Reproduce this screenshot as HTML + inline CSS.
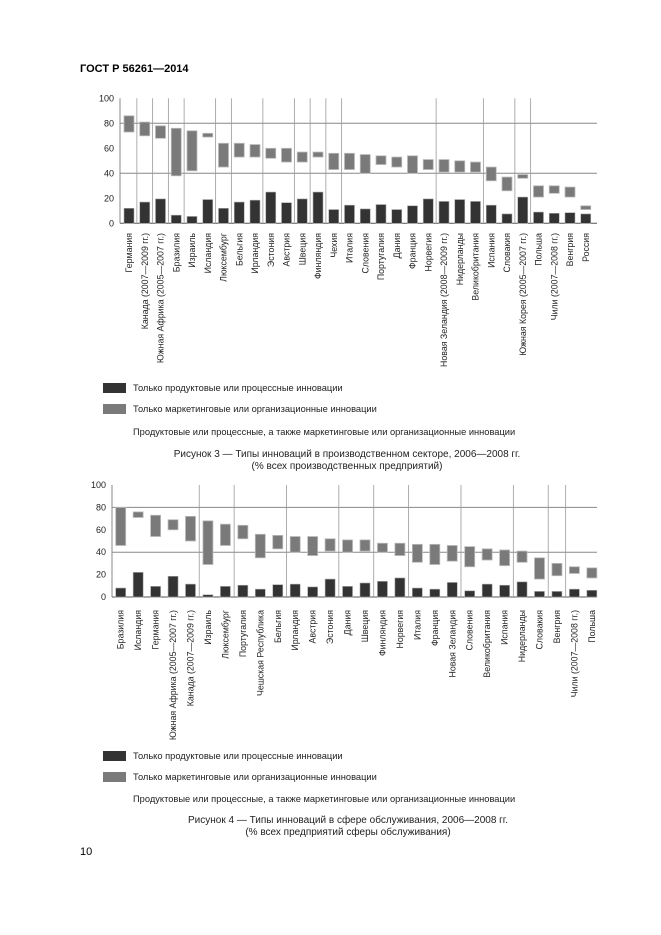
<!DOCTYPE html>
<html><head><meta charset="utf-8"><style>
html,body{margin:0;padding:0;background:#fff;}
svg{display:block;font-family:"Liberation Sans",sans-serif;}
</style></head><body>
<svg id="s" width="661" height="935" viewBox="0 0 661 935" xmlns="http://www.w3.org/2000/svg">
<text x="80" y="72" font-size="11" font-weight="bold">ГОСТ Р 56261—2014</text>
<text x="80" y="855" font-size="11">10</text>
<g font-size="9.3" fill="#222">
<rect x="103" y="383" width="23" height="10" fill="#333"/>
<text x="133" y="391">Только продуктовые или процессные инновации</text>
<rect x="103" y="404" width="23" height="10" fill="#7a7a7a"/>
<text x="133" y="412">Только маркетинговые или организационные инновации</text>
<text x="133" y="435">Продуктовые или процессные, а также маркетинговые или организационные инновации</text>
<text x="347" y="457" text-anchor="middle" font-size="10">Рисунок 3 — Типы инноваций в производственном секторе, 2006—2008 гг.</text>
<text x="347" y="469" text-anchor="middle" font-size="10">(% всех производственных предприятий)</text>
<rect x="103" y="751" width="23" height="10" fill="#333"/>
<text x="133" y="759">Только продуктовые или процессные инновации</text>
<rect x="103" y="772" width="23" height="10" fill="#7a7a7a"/>
<text x="133" y="780">Только маркетинговые или организационные инновации</text>
<text x="133" y="802">Продуктовые или процессные, а также маркетинговые или организационные инновации</text>
<text x="348" y="823" text-anchor="middle" font-size="10">Рисунок 4 — Типы инноваций в сфере обслуживания, 2006—2008 гг.</text>
<text x="348" y="835" text-anchor="middle" font-size="10">(% всех предприятий сферы обслуживания)</text>
</g>
<g id="c"></g>
</svg>
<script>
var NS="http://www.w3.org/2000/svg",g=document.getElementById('c');
function el(t,a,txt){var e=document.createElementNS(NS,t);for(var k in a)e.setAttribute(k,a[k]);if(txt)e.textContent=txt;g.appendChild(e);return e;}
function chart(o){
 var y=function(v){return o.y0-v*o.k;};
 el('line',{x1:o.left,y1:y(0),x2:o.right,y2:y(0),stroke:'#555','stroke-width':1});
 el('line',{x1:o.left,y1:y(0),x2:o.left,y2:y(100),stroke:'#888','stroke-width':1});
 [80,40].forEach(function(v){el('line',{x1:o.left,y1:y(v),x2:o.right,y2:y(v),stroke:'#888','stroke-width':1});});
 [100,80,60,40,20,0].forEach(function(v){el('text',{x:o.left-6,y:y(v)+3,'font-size':9,'text-anchor':'end',fill:'#222'},String(v));});
 o.vl.forEach(function(i){var x=o.x0+(i-0.5)*o.dx;el('line',{x1:x,y1:y(0),x2:x,y2:y(100),stroke:'#999','stroke-width':0.8});});
 o.d.forEach(function(r,i){var cx=o.x0+i*o.dx,w=10;
  el('rect',{x:cx-w/2,y:y(r[2]),width:w,height:(r[2]-r[3])*o.k,fill:'#7a7a7a',stroke:'#bbb','stroke-width':0.8});
  el('rect',{x:cx-w/2,y:y(r[1]),width:w,height:r[1]*o.k,fill:'#333',stroke:'#aaa','stroke-width':0.6});
  el('text',{transform:'translate('+(cx+3)+','+o.ly+') rotate(-90)','font-size':8.8,'text-anchor':'end',fill:'#222'},r[0]);
 });
}
chart({left:120,right:597,y0:223.3,k:1.25,x0:129,dx:15.75,ly:233,vl:[1,2,3,4,6,7,9,11,12,13,14,20,23,25,26],
d:[["Германия",12,86,73],["Канада (2007—2009 гг.)",17,81,70],["Южная Африка (2005—2007 гг.)",19.5,78,68],["Бразилия",6.5,76,38],["Израиль",5.5,74,42],["Исландия",19,72,69],["Люксембург",12,64,45],["Бельгия",17,64,53],["Ирландия",18.5,63,53],["Эстония",25,60,52],["Австрия",16.5,60,49],["Швеция",19.5,57,49],["Финляндия",25,57,53],["Чехия",11,56,43],["Италия",14.5,56,43],["Словения",11.5,55,40],["Португалия",15,54,47],["Дания",11,53,45],["Франция",14,54,40],["Норвегия",19.5,51,43],["Новая Зеландия (2008—2009 гг.)",17.5,51,41],["Нидерланды",19,50,41],["Великобритания",17.5,49,41],["Испания",14.5,45,34],["Словакия",7.5,37,26],["Южная Корея (2005—2007 гг.)",21,39,36],["Польша",9,30,21],["Чили (2007—2008 гг.)",8,30,24],["Венгрия",8.5,29,21],["Россия",7.5,14,11]]});
chart({left:112,right:597,y0:597,k:1.12,x0:120.7,dx:17.45,ly:610,vl:[5,7,10,13,15,17,20,23,25,26],
d:[["Бразилия",8,80,46],["Исландия",22,76,71],["Германия",9.5,73,54],["Южная Африка (2005—2007 гг.)",18.5,69,60],["Канада (2007—2009 гг.)",11.5,72,50],["Израиль",2,68,29],["Люксембург",9.5,65,46],["Португалия",10.5,64,52],["Чешская Республика",7,56,35],["Бельгия",11,55,43],["Ирландия",11.5,54,40],["Австрия",9,54,37],["Эстония",16,52,41],["Дания",9.5,51,40],["Швеция",12.5,51,41],["Финляндия",14,48,40],["Норвегия",17,48,37],["Италия",8,47,31],["Франция",7,47,29],["Новая Зеландия",13,46,32],["Словения",5.5,45,27],["Великобритания",11.5,43,33],["Испания",10.5,42,28],["Нидерланды",13.5,41,31],["Словакия",5,35,16],["Венгрия",5,30,19],["Чили (2007—2008 гг.)",7,27,21],["Польша",6,26,17]]});
</script>
</body></html>
